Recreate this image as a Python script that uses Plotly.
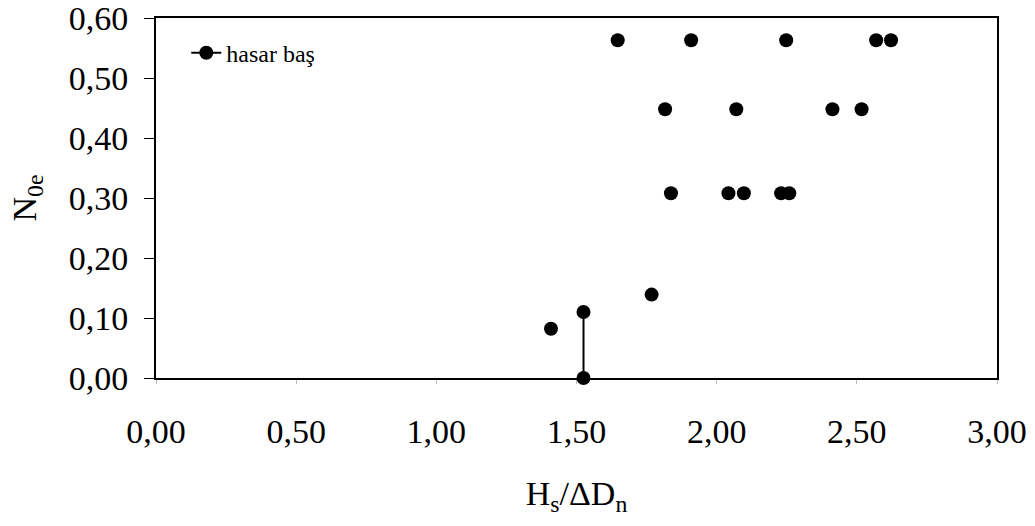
import plotly.graph_objects as go

# Series "hasar baş" (damage start) - connected pair
hasar_x = [1.525, 1.525]
hasar_y = [0.110, 0.000]

# Other measured points (markers only)
pts_x = [1.409, 1.768,
         1.837, 2.042, 2.097, 2.230, 2.259,
         1.816, 2.070, 2.413, 2.517,
         1.647, 1.909, 2.248, 2.569, 2.622]
pts_y = [0.082, 0.139,
         0.308, 0.308, 0.308, 0.308, 0.308,
         0.448, 0.448, 0.448, 0.448,
         0.563, 0.563, 0.563, 0.563, 0.563]

x_ticks = [0.0, 0.5, 1.0, 1.5, 2.0, 2.5, 3.0]
y_ticks = [0.0, 0.1, 0.2, 0.3, 0.4, 0.5, 0.6]

FONT = "Liberation Serif, Times New Roman, serif"

fig = go.Figure()
fig.add_trace(go.Scatter(
    x=pts_x, y=pts_y, mode="markers",
    marker=dict(color="black", size=14),
    showlegend=False, cliponaxis=False,
))
fig.add_trace(go.Scatter(
    x=hasar_x, y=hasar_y, mode="lines+markers", name="hasar baş",
    line=dict(color="black", width=2),
    marker=dict(color="black", size=14),
    cliponaxis=False,
))

fig.update_layout(
    width=1035, height=526,
    margin=dict(l=156, r=38, t=18, b=148),
    paper_bgcolor="white", plot_bgcolor="white",
    separators=", ",
    font=dict(family=FONT, color="black", size=34),
    legend=dict(x=0.036, y=0.965, xanchor="left", yanchor="top",
                bgcolor="rgba(0,0,0,0)", font=dict(size=24, family=FONT),
                itemwidth=30),
)
fig.update_xaxes(
    range=[0, 3], tickvals=x_ticks, tickformat=".2f",
    showgrid=False, zeroline=False, automargin=False,
    showline=True, linecolor="black", linewidth=2, mirror=True,
    ticks="outside", ticklen=4, tickcolor="#bbbbbb", tickwidth=1,
    ticklabelstandoff=18, ticklabeloverflow="allow",
    tickfont=dict(size=34, family=FONT),
    title=dict(text="H<sub>s</sub>/ΔD<sub>n</sub>", font=dict(size=34, family=FONT), standoff=32),
)
fig.update_yaxes(
    range=[0, 0.6], tickvals=y_ticks, tickformat=".2f",
    showgrid=False, zeroline=False, automargin=False,
    showline=True, linecolor="black", linewidth=2, mirror=True,
    ticks="outside", ticklen=10, tickcolor="black", tickwidth=1,
    ticklabelstandoff=9, ticklabeloverflow="allow",
    tickfont=dict(size=34, family=FONT),
    title=dict(text="N<sub>0e</sub>", font=dict(size=34, family=FONT), standoff=22),
)

fig.write_html("out.html", config={"displayModeBar": False},
               post_script="document.body.style.margin='0';")
